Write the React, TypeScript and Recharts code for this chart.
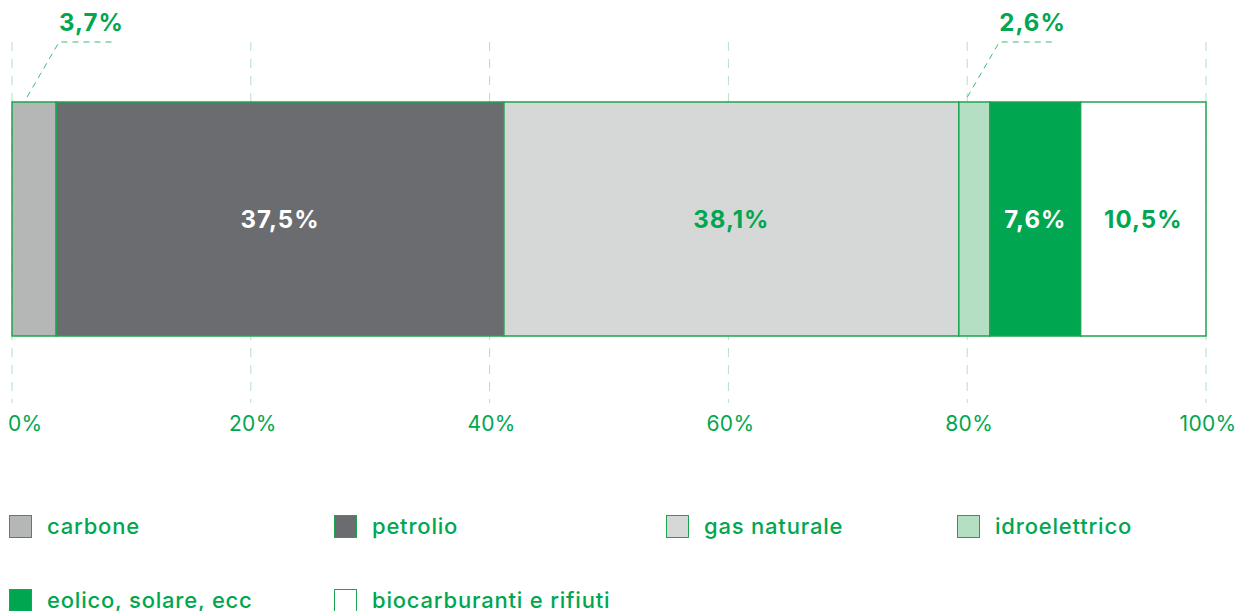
import React from 'react';
import { BarChart, Bar, XAxis, YAxis, CartesianGrid, LabelList } from 'recharts';

const categories = ['mix'];
const seriesKeys = ['carbone', 'petrolio', 'gas', 'idro', 'eolico', 'bio'];
const seriesNames = ['carbone', 'petrolio', 'gas naturale', 'idroelettrico', 'eolico, solare, ecc', 'biocarburanti e rifiuti'];
const shares = [3.7, 37.5, 38.1, 2.6, 7.6, 10.5];
const xTicks = [0, 20, 40, 60, 80, 100];

const GREEN = '#00a650';
const fills = ['#b5b6b6', '#6b6c70', '#d6d7d7', '#b5dfc3', '#00a650', '#ffffff'];
// where the value label goes: inside the segment, or above it with a leader line
const labelMode = ['out', 'in', 'in', 'out', 'in', 'in'];
const labelColor = ['', '#ffffff', GREEN, '', '#ffffff', GREEN];

const FONT = 'Inter, "Liberation Sans", Arial, sans-serif';

const data = categories.map((name) => {
  const row: any = { name };
  seriesKeys.forEach((k, i) => (row[k] = shares[i]));
  return row;
});

const fmt = (v: number) => `${v.toFixed(1).replace('.', ',')}%`;

const PercentTick = ({ x, y, payload }: any) => {
  const first = payload.value === 0;
  return (
    <text
      x={first ? x - 4 : x + 2}
      y={y + 20}
      textAnchor={first ? 'start' : 'middle'}
      fill={GREEN}
      fontFamily={FONT}
      fontSize={21}
      letterSpacing={0.3}
    >
      {payload.value}%
    </text>
  );
};

const makeLabel = (i: number) => (props: any) => {
  const { x, y, width, height, value } = props;
  if (labelMode[i] === 'in') {
    return (
      <text
        x={x + width / 2}
        y={y + height / 2 + 9}
        textAnchor="middle"
        fill={labelColor[i]}
        fontFamily={FONT}
        fontWeight={700}
        fontSize={24}
        letterSpacing={1}
      >
        {fmt(value)}
      </text>
    );
  }
  const sx = x + width / 2 - 7;
  const sy = y - 5;
  const tx = sx + 32;
  const ty = y - 60;
  return (
    <g>
      <polyline
        points={`${sx},${sy} ${tx},${ty} ${tx + 53},${ty}`}
        fill="none"
        stroke="#3dbb74"
        strokeWidth={1}
        strokeDasharray="6 5"
      />
      <text
        x={tx}
        y={y - 71}
        fill={GREEN}
        fontFamily={FONT}
        fontWeight={700}
        fontSize={24}
        letterSpacing={1}
      >
        {fmt(value)}
      </text>
    </g>
  );
};

const legendCols = [9, 334, 666, 957];
const legendRows = [513, 587];

const App = () => {
  return (
    <div style={{ position: 'absolute', left: 0, top: 0, width: 1240, height: 611, background: '#fff' }}>
      <BarChart
        width={1240}
        height={611}
        data={data}
        layout="vertical"
        margin={{ top: 42, right: 34, left: 12, bottom: 178 }}
      >
        <CartesianGrid vertical horizontal={false} stroke="#b3dfc4" strokeDasharray="9 8" />
        <XAxis
          type="number"
          domain={[0, 100]}
          ticks={xTicks}
          axisLine={false}
          tickLine={false}
          height={30}
          tick={<PercentTick />}
          interval={0}
        />
        <YAxis type="category" dataKey="name" hide padding={{ top: 0, bottom: 7 }} />
        {seriesKeys.map((k, i) => (
          <Bar
            key={k}
            dataKey={k}
            name={seriesNames[i]}
            stackId="a"
            fill={fills[i]}
            stroke="#1ba552"
            strokeWidth={1.5}
            barSize={234}
            isAnimationActive={false}
          >
            <LabelList dataKey={k} content={makeLabel(i)} />
          </Bar>
        ))}
      </BarChart>
      {seriesNames.map((n, i) => (
        <div
          key={n}
          style={{
            position: 'absolute',
            left: legendCols[i % 4],
            top: legendRows[Math.floor(i / 4)],
            display: 'flex',
            alignItems: 'center',
            fontFamily: FONT,
            fontWeight: 500,
            fontSize: 22,
            letterSpacing: 0.8,
            color: GREEN,
            whiteSpace: 'nowrap',
          }}
        >
          <span
            style={{
              width: 21,
              height: 21,
              background: fills[i],
              border: '1.5px solid #1ba552',
              marginRight: 15,
              display: 'inline-block',
            }}
          />
          <span>{n}</span>
        </div>
      ))}
    </div>
  );
};

export default App;
